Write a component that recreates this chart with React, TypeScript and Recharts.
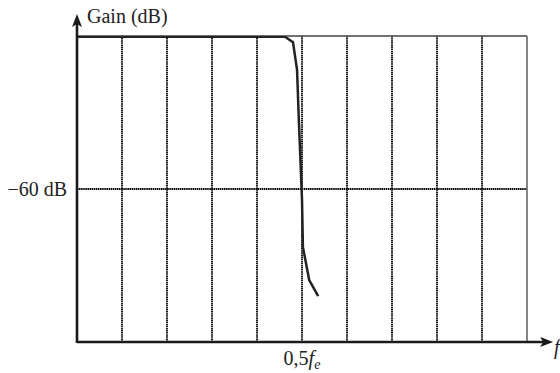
import { LineChart, Line, XAxis, YAxis, ReferenceLine } from "recharts";

// normalised frequency f / fe and gain in dB
const freq = [0, 0.462, 0.48, 0.489, 0.493, 0.5, 0.502, 0.516, 0.536];
const gain = [-0.3, -0.3, -2.4, -13.3, -33, -64, -82.7, -95.7, -102];
const gridX = [0.1, 0.2, 0.3, 0.4, 0.5, 0.6, 0.7, 0.8, 0.9];
const xTicks = [0.5];
const yTicks = [-60];

const textStyle = { fontFamily: "Liberation Serif, DejaVu Serif, serif", fontSize: 20 };

const chartData = freq.map((f, i) => ({ f, gain: gain[i] }));

const XTick = ({ x, y }: any) => (
  <text x={x} y={y + 15} textAnchor="middle" style={textStyle} fill="#222">
    0,5<tspan fontStyle="italic">f</tspan>
    <tspan fontStyle="italic" fontSize={14} dy={4}>e</tspan>
  </text>
);

const YTick = ({ x, y, payload }: any) => (
  <text x={x - 2} y={y + 7} textAnchor="end" style={textStyle} fill="#222">
    {`\u2212${Math.abs(payload.value)} dB`}
  </text>
);

const XArrow = (props: any) => {
  const { x1, y1, x2, y2 } = props;
  return (
    <g>
      <line x1={x1} y1={y1} x2={x2 - 8} y2={y2} stroke="#1a1a1a" strokeWidth={2.6} />
      <polygon points={`${x2},${y2} ${x2 - 13},${y2 - 5} ${x2 - 10},${y2} ${x2 - 13},${y2 + 5}`} fill="#1a1a1a" />
      <text x={x2 + 1} y={y2 + 12} style={{ ...textStyle, fontStyle: "italic" }} fill="#222">f</text>
    </g>
  );
};

const YArrow = (props: any) => {
  const { x1, y1, x2, y2 } = props;
  const top = Math.min(y1, y2);
  const bottom = Math.max(y1, y2);
  return (
    <g>
      <line x1={x1} y1={bottom + 1} x2={x2} y2={top + 8} stroke="#1a1a1a" strokeWidth={2.6} />
      <polygon points={`${x1},${top} ${x1 - 5},${top + 13} ${x1},${top + 10} ${x1 + 5},${top + 13}`} fill="#1a1a1a" />
      <text x={x1 + 10} y={top + 9} style={textStyle} fill="#222">Gain (dB)</text>
    </g>
  );
};

export default function App() {
  return (
    <div style={{ position: "absolute", left: 0, top: 0, background: "#fff" }}>
      <LineChart width={560} height={373} data={chartData} margin={{ top: 36, right: 33, left: 7, bottom: 1 }}>
        <XAxis
          dataKey="f"
          type="number"
          domain={[0, 1]}
          ticks={xTicks}
          axisLine={false}
          tickLine={false}
          height={30}
          tick={<XTick />}
          interval={0}
        />
        <YAxis
          type="number"
          domain={[-120, 0]}
          ticks={yTicks}
          axisLine={false}
          tickLine={false}
          width={70}
          tick={<YTick />}
          interval={0}
          allowDataOverflow
        />
        {gridX.map(v => (
          <ReferenceLine key={v} x={v} stroke="#000" strokeWidth={1.8} strokeDasharray="1.5 0.6" />
        ))}
        <ReferenceLine y={-60} stroke="#000" strokeWidth={1.8} strokeDasharray="1.5 0.6" />
        <ReferenceLine y={0} stroke="#444" strokeWidth={1.6} />
        <ReferenceLine x={1} stroke="#666" strokeWidth={1.6} />
        <Line
          type="linear"
          dataKey="gain"
          stroke="#222"
          strokeWidth={2.5}
          dot={false}
          isAnimationActive={false}
        />
        <ReferenceLine
          segment={[{ x: 0, y: -120 }, { x: 1.058, y: -120 }]}
          ifOverflow="visible"
          shape={<XArrow />}
        />
        <ReferenceLine
          segment={[{ x: 0, y: -120 }, { x: 0, y: 8.6 }]}
          ifOverflow="visible"
          shape={<YArrow />}
        />
      </LineChart>
    </div>
  );
}
